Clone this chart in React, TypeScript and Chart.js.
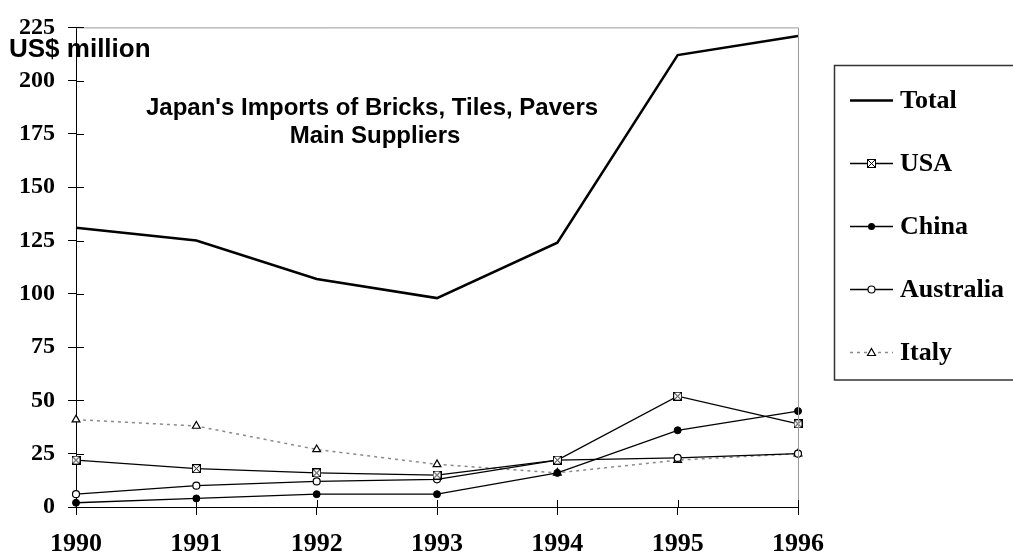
import React, { useEffect, useRef } from 'react';
import { Chart, registerables } from 'chart.js';

Chart.register(...registerables);

const years = ['1990', '1991', '1992', '1993', '1994', '1995', '1996'];
const total = [131, 125, 107, 98, 124, 212, 221];
const usa = [22, 18, 16, 15, 22, 52, 39];
const china = [2, 4, 6, 6, 16, 36, 45];
const australia = [6, 10, 12, 13, 22, 23, 25];
const italy = [41, 38, 27, 20, 16, 22, 25];
const yTicks = [0, 25, 50, 75, 100, 125, 150, 175, 200, 225];
const legendLabels = ['Total', 'USA', 'China', 'Australia', 'Italy'];
const titleLines = ["Japan's Imports of Bricks, Tiles, Pavers", 'Main Suppliers'];
const unitLabel = 'US$ million';

const SERIF = '"Liberation Serif", "Times New Roman", serif';
const SANS = '"Liberation Sans", Arial, sans-serif';

function makeUsaMarker(): HTMLCanvasElement {
  const c = document.createElement('canvas');
  c.width = 9;
  c.height = 9;
  const g = c.getContext('2d')!;
  g.fillStyle = '#fff';
  g.fillRect(0, 0, 9, 9);
  g.strokeStyle = '#000';
  g.lineWidth = 1;
  g.strokeRect(0.5, 0.5, 8, 8);
  g.beginPath();
  g.moveTo(1, 1);
  g.lineTo(8, 8);
  g.moveTo(8, 1);
  g.lineTo(1, 8);
  g.stroke();
  return c;
}

function drawMarker(ctx: CanvasRenderingContext2D, kind: string, x: number, y: number, img: HTMLCanvasElement) {
  ctx.save();
  ctx.setLineDash([]);
  ctx.strokeStyle = '#000';
  ctx.lineWidth = 1.2;
  if (kind === 'usa') {
    ctx.drawImage(img, Math.round(x - 4.5), Math.round(y - 4.5));
  } else if (kind === 'china') {
    ctx.fillStyle = '#000';
    ctx.beginPath();
    ctx.arc(x, y, 3.5, 0, Math.PI * 2);
    ctx.fill();
  } else if (kind === 'australia') {
    ctx.fillStyle = '#fff';
    ctx.beginPath();
    ctx.arc(x, y, 3.5, 0, Math.PI * 2);
    ctx.fill();
    ctx.stroke();
  } else if (kind === 'italy') {
    ctx.fillStyle = '#fff';
    ctx.beginPath();
    ctx.moveTo(x, y - 4);
    ctx.lineTo(x + 4, y + 3);
    ctx.lineTo(x - 4, y + 3);
    ctx.closePath();
    ctx.fill();
    ctx.stroke();
  }
  ctx.restore();
}

export default function App() {
  const ref = useRef<HTMLCanvasElement>(null);

  useEffect(() => {
    const usaImg = makeUsaMarker();
    const kinds = ['total', 'usa', 'china', 'australia', 'italy'];

    const framePlugin = {
      id: 'framePlugin',
      afterDatasetsDraw(chart: any) {
        const ctx: CanvasRenderingContext2D = chart.ctx;
        const { left, right, top, bottom } = chart.chartArea;
        const xs = chart.scales.x;
        const ys = chart.scales.y;
        ctx.save();
        ctx.strokeStyle = '#9a9a9a';
        ctx.lineWidth = 1;
        ctx.beginPath();
        ctx.moveTo(left, top + 0.5);
        ctx.lineTo(right + 0.5, top + 0.5);
        ctx.lineTo(right + 0.5, bottom);
        ctx.stroke();
        ctx.strokeStyle = '#000';
        ctx.beginPath();
        yTicks.forEach((v) => {
          const py = Math.round(ys.getPixelForValue(v)) + 0.5;
          ctx.moveTo(left, py);
          ctx.lineTo(left + 8, py);
        });
        years.forEach((_, i) => {
          const px = Math.round(xs.getPixelForValue(i)) + 0.5;
          ctx.moveTo(px, bottom);
          ctx.lineTo(px, bottom - 7);
        });
        ctx.stroke();
        ctx.restore();
      },
      afterDraw(chart: any) {
        const ctx: CanvasRenderingContext2D = chart.ctx;
        ctx.save();
        ctx.fillStyle = '#000';
        ctx.font = `bold 24px ${SANS}`;
        ctx.textAlign = 'center';
        ctx.textBaseline = 'alphabetic';
        ctx.fillText(titleLines[0], 372, 115);
        ctx.fillText(titleLines[1], 375, 143);
        ctx.textAlign = 'left';
        ctx.font = `bold 26px ${SANS}`;
        ctx.fillText(unitLabel, 9, 57);
        ctx.strokeStyle = '#333';
        ctx.lineWidth = 1.5;
        ctx.strokeRect(834.5, 65.5, 200, 314.5);
        const ys = [100, 163, 226, 289, 352];
        const ds = chart.data.datasets;
        legendLabels.forEach((lab, i) => {
          const y = ys[i];
          const d = ds[i];
          ctx.save();
          ctx.strokeStyle = d.borderColor;
          ctx.lineWidth = d.borderWidth;
          ctx.setLineDash(d.borderDash || []);
          ctx.beginPath();
          ctx.moveTo(850, y + 0.5);
          ctx.lineTo(893, y + 0.5);
          ctx.stroke();
          ctx.restore();
          drawMarker(ctx, kinds[i], 871.5, y + 0.5, usaImg);
          ctx.fillStyle = '#000';
          ctx.font = `bold 26px ${SERIF}`;
          ctx.textAlign = 'left';
          ctx.textBaseline = 'middle';
          ctx.fillText(lab, 900, y + 1);
        });
        ctx.restore();
      },
    };

    const chart = new Chart(ref.current!, {
      type: 'line',
      data: {
        labels: years,
        datasets: [
          {
            label: legendLabels[0],
            data: total,
            borderColor: '#000',
            borderWidth: 2.5,
            pointRadius: 0,
            fill: false,
            clip: false,
          },
          {
            label: legendLabels[1],
            data: usa,
            borderColor: '#000',
            borderWidth: 1.3,
            pointStyle: usaImg as any,
            pointRadius: 4.5,
            fill: false,
            clip: false,
          },
          {
            label: legendLabels[2],
            data: china,
            borderColor: '#000',
            borderWidth: 1.3,
            pointStyle: 'circle',
            pointRadius: 3.5,
            pointBackgroundColor: '#000',
            pointBorderColor: '#000',
            pointBorderWidth: 1,
            fill: false,
            clip: false,
          },
          {
            label: legendLabels[3],
            data: australia,
            borderColor: '#000',
            borderWidth: 1.3,
            pointStyle: 'circle',
            pointRadius: 3.5,
            pointBackgroundColor: '#fff',
            pointBorderColor: '#000',
            pointBorderWidth: 1.2,
            fill: false,
            clip: false,
          },
          {
            label: legendLabels[4],
            data: italy,
            borderColor: '#8a8a8a',
            borderWidth: 1.5,
            borderDash: [3, 4],
            pointStyle: 'triangle',
            pointRadius: 4.5,
            pointBackgroundColor: '#fff',
            pointBorderColor: '#000',
            pointBorderWidth: 1.2,
            fill: false,
            clip: false,
          },
        ],
      },
      options: {
        animation: false,
        responsive: false,
        devicePixelRatio: 1,
        layout: { padding: { left: 0, top: 19, right: 215, bottom: 0 } },
        elements: { line: { tension: 0 } },
        plugins: {
          legend: { display: false },
          tooltip: { enabled: false },
          title: { display: false },
        },
        scales: {
          x: {
            type: 'category',
            offset: false,
            border: { display: true, color: '#000', width: 1 },
            grid: { drawOnChartArea: false, drawTicks: true, tickLength: 8, color: '#000' },
            ticks: {
              color: '#000',
              font: { family: SERIF, size: 26, weight: 'bold' },
              padding: 14,
              maxRotation: 0,
              autoSkip: false,
            },
            afterFit: (scale: any) => {
              scale.height = 49;
            },
          },
          y: {
            min: 0,
            max: 225,
            border: { display: true, color: '#000', width: 1 },
            grid: { drawOnChartArea: false, drawTicks: true, tickLength: 8, color: '#000' },
            ticks: {
              stepSize: 25,
              color: '#000',
              font: { family: SERIF, size: 24, weight: 'bold' },
              padding: 13,
            },
            afterFit: (scale: any) => {
              scale.width = 76;
            },
          },
        },
      },
      plugins: [framePlugin],
    } as any);

    return () => chart.destroy();
  }, []);

  return (
    <div style={{ position: 'fixed', left: 0, top: 0, width: 1013, height: 556, background: '#fff' }}>
      <canvas ref={ref} width={1013} height={556} style={{ display: 'block', width: 1013, height: 556 }} />
    </div>
  );
}
